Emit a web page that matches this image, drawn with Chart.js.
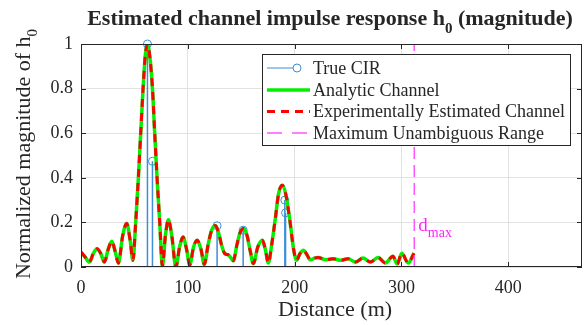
<!DOCTYPE html>
<html><head><meta charset="utf-8">
<script src="https://cdn.jsdelivr.net/npm/chart.js@4/dist/chart.umd.min.js"></script>
<style>html,body{margin:0;padding:0;background:#fff}#wrap{width:586px;height:325px;position:relative}</style>
</head><body><div id="wrap"><canvas id="c" width="586" height="325"></canvas></div>
<script>
// ---- data ----
const distance = [
  0,3.8,7.8,11.5,15,18.5,21.9,25.5,28.8,32,
  35,39,42.8,46,48.6,51.2,53.7,55.9,58.1,60.2,
  62.2,64.5,66.9,69,71.2,73.7,76.2,79,81.8,85,
  88.8,92.3,95.6,98.8,101.8,105.4,108.8,112.3,115.4,119,
  122.3,125.8,129,131.5,134.6,137.7,140.5,142.6,146,149,
  152.4,155.5,158.5,161.3,165.5,169.8,172.5,175.4,178.5,182,
  185,188.5,191.5,195.5,199,201.8,205,208.5,211.5,214.8,
  218.5,222,229,236,243,250,257,264,271,278,
  285,292,296,300.3,306.3,311.7
];
const analyticMag = [
  0.067,0.045,0.022,0.06,0.082,0.06,0.022,0.08,0.115,0.07,
  0.017,0.14,0.195,0.12,0.03,0.2,0.4,0.6,0.8,0.95,
  1.0,0.94,0.8,0.6,0.4,0.2,0.005,0.14,0.212,0.14,
  0.0,0.09,0.134,0.08,0.01,0.09,0.12,0.08,0.012,0.1,
  0.165,0.186,0.15,0.1,0.06,0.055,0.04,0.028,0.1,0.155,
  0.173,0.14,0.07,0.015,0.09,0.12,0.08,0.018,0.1,0.22,
  0.33,0.367,0.33,0.21,0.08,0.03,0.06,0.075,0.055,0.032,
  0.04,0.043,0.032,0.037,0.03,0.037,0.022,0.04,0.022,0.043,
  0.018,0.048,0.013,0.062,0.018,0.062
];
const estimatedMag = [
  0.067,0.045,0.022,0.06,0.082,0.06,0.022,0.08,0.115,0.07,
  0.017,0.14,0.195,0.12,0.03,0.2,0.4,0.6,0.8,0.95,
  1.0,0.94,0.8,0.6,0.4,0.2,0.005,0.14,0.212,0.14,
  0.0,0.09,0.134,0.08,0.01,0.09,0.12,0.08,0.012,0.1,
  0.165,0.186,0.15,0.1,0.06,0.055,0.04,0.028,0.1,0.155,
  0.173,0.14,0.07,0.015,0.09,0.12,0.08,0.018,0.1,0.22,
  0.33,0.367,0.33,0.21,0.08,0.03,0.06,0.075,0.055,0.032,
  0.04,0.043,0.032,0.037,0.03,0.037,0.022,0.04,0.022,0.043,
  0.018,0.048,0.013,0.062,0.018,0.062
];
const cirDistance = [62.2, 66.9, 127.4, 151.8, 190.8, 191.5];
const cirMag      = [1.0, 0.474, 0.185, 0.165, 0.30, 0.243];
const dMax = 312;
const xTickValues = [0, 100, 200, 300, 400];
const yTickValues = [0, 0.2, 0.4, 0.6, 0.8, 1];
const legendLabels = ['True CIR', 'Analytic Channel', 'Experimentally Estimated Channel', 'Maximum Unambiguous Range'];

// ---- styling ----
const SERIF = "'Liberation Serif', 'Times New Roman', serif";
const AX = '#262626';
const BLUE = '#3d8fd6';
const GREEN = '#00f000';
const RED = '#ff0000';
const MAG = '#ff55ff';

Chart.defaults.font.family = SERIF;
Chart.defaults.color = AX;

const stemPoints = [];
cirDistance.forEach((d, i) => {
  stemPoints.push({x: d, y: 0});
  stemPoints.push({x: d, y: cirMag[i]});
  stemPoints.push({x: d, y: null});
});

function drawParts(ctx, parts, x, y, align) {
  let total = 0;
  parts.forEach(p => { ctx.font = p.font; p.w = ctx.measureText(p.t).width; total += p.w; });
  let cx = align === 'center' ? x - total / 2 : x;
  ctx.textAlign = 'left';
  ctx.textBaseline = 'alphabetic';
  parts.forEach(p => { ctx.font = p.font; ctx.fillStyle = p.color || AX; ctx.fillText(p.t, cx, y + (p.dy || 0)); cx += p.w; });
}

const decor = {
  id: 'decor',
  afterDraw(chart) {
    const ctx = chart.ctx, a = chart.chartArea;
    const xs = chart.scales.x, ys = chart.scales.y;
    ctx.save();
    // frame
    ctx.strokeStyle = AX; ctx.lineWidth = 1; ctx.setLineDash([]);
    ctx.strokeRect(a.left + 0.5, a.top + 0.5, a.right - a.left - 1, a.bottom - a.top - 1);
    // inward ticks
    ctx.beginPath();
    xTickValues.forEach(v => {
      const px = Math.round(xs.getPixelForValue(v)) + 0.5;
      ctx.moveTo(px, a.bottom); ctx.lineTo(px, a.bottom - 5);
      ctx.moveTo(px, a.top); ctx.lineTo(px, a.top + 5);
    });
    yTickValues.forEach(v => {
      const py = Math.round(ys.getPixelForValue(v)) + 0.5;
      ctx.moveTo(a.left, py); ctx.lineTo(a.left + 5, py);
      ctx.moveTo(a.right, py); ctx.lineTo(a.right - 5, py);
    });
    ctx.stroke();

    // d_max label
    const dx = xs.getPixelForValue(dMax) + 4;
    drawParts(ctx, [
      {t: 'd', font: '19px ' + SERIF, color: '#ff22ff'},
      {t: 'max', font: '14px ' + SERIF, color: '#ff22ff', dy: 6}
    ], dx, 231, 'left');

    // legend
    const L = {x: 262, y: 54, w: 308, h: 91};
    ctx.fillStyle = '#fff';
    ctx.fillRect(L.x, L.y, L.w, L.h);
    ctx.strokeStyle = AX; ctx.lineWidth = 1;
    ctx.strokeRect(L.x + 0.5, L.y + 0.5, L.w, L.h);
    const rows = [68, 90, 111.5, 133];
    ctx.strokeStyle = BLUE; ctx.lineWidth = 1;
    ctx.beginPath(); ctx.moveTo(267, rows[0]); ctx.lineTo(293, rows[0]); ctx.stroke();
    ctx.beginPath(); ctx.arc(297, rows[0], 4, 0, Math.PI * 2); ctx.stroke();
    ctx.strokeStyle = GREEN; ctx.lineWidth = 3.5;
    ctx.beginPath(); ctx.moveTo(267, rows[1]); ctx.lineTo(310, rows[1]); ctx.stroke();
    ctx.strokeStyle = RED; ctx.lineWidth = 3; ctx.setLineDash([8, 6]);
    ctx.beginPath(); ctx.moveTo(267, rows[2]); ctx.lineTo(310, rows[2]); ctx.stroke();
    ctx.strokeStyle = MAG; ctx.lineWidth = 1.5; ctx.setLineDash([15, 10]);
    ctx.beginPath(); ctx.moveTo(267, rows[3]); ctx.lineTo(310, rows[3]); ctx.stroke();
    ctx.setLineDash([]);
    ctx.fillStyle = AX; ctx.font = '18px ' + SERIF; ctx.textAlign = 'left'; ctx.textBaseline = 'middle';
    legendLabels.forEach((t, i) => ctx.fillText(t, 313, rows[i] + 1));

    // title
    drawParts(ctx, [
      {t: 'Estimated channel impulse response h', font: 'bold 22px ' + SERIF},
      {t: '0', font: 'bold 15px ' + SERIF, dy: 8},
      {t: ' (magnitude)', font: 'bold 22px ' + SERIF}
    ], 330, 25, 'center');

    // x label
    drawParts(ctx, [{t: 'Distance (m)', font: '22px ' + SERIF}], 335, 316, 'center');

    // y label
    ctx.save();
    ctx.translate(30, 154);
    ctx.rotate(-Math.PI / 2);
    drawParts(ctx, [
      {t: 'Normalized magnitude of h', font: '22px ' + SERIF},
      {t: '0', font: '15px ' + SERIF, dy: 7}
    ], 0, 0, 'center');
    ctx.restore();
    ctx.restore();
  }
};

const toXY = (xsArr, ysArr) => xsArr.map((x, i) => ({x, y: ysArr[i]}));

new Chart(document.getElementById('c'), {
  type: 'line',
  data: {
    datasets: [
      {label: legendLabels[3], data: [{x: dMax, y: 0}, {x: dMax, y: 1}], borderColor: MAG, borderWidth: 1.5,
       borderDash: [12, 6], pointRadius: 0, order: 0},
      {label: legendLabels[2], data: toXY(distance, estimatedMag), borderColor: RED, borderWidth: 3,
       borderDash: [8, 6], pointRadius: 0, cubicInterpolationMode: 'monotone', order: 1},
      {label: legendLabels[1], data: toXY(distance, analyticMag), borderColor: GREEN, borderWidth: 3.5,
       pointRadius: 0, cubicInterpolationMode: 'monotone', order: 2},
      {label: legendLabels[0], data: stemPoints, borderColor: BLUE, borderWidth: 1.5, spanGaps: false,
       pointRadius: c => (c.raw && c.raw.y > 0 ? 4 : 0), pointStyle: 'circle',
       pointBorderColor: BLUE, pointBackgroundColor: 'rgba(0,0,0,0)', pointBorderWidth: 1,
       clip: false, order: 3}
    ]
  },
  options: {
    responsive: false, animation: false, devicePixelRatio: 1,
    layout: {padding: {top: 44, right: 4, left: 0, bottom: 0}},
    plugins: {legend: {display: false}, title: {display: false}, tooltip: {enabled: false}},
    scales: {
      x: {type: 'linear', min: 0, max: 469,
          afterBuildTicks: s => { s.ticks = xTickValues.map(v => ({value: v})); },
          afterFit: s => { s.height = 58; },
          grid: {color: '#e2e2e2', drawTicks: false, lineWidth: 1},
          border: {display: false},
          ticks: {font: {family: SERIF, size: 18}, color: AX, padding: 10, maxRotation: 0,
                  callback: v => String(v)}},
      y: {type: 'linear', min: 0, max: 1,
          afterBuildTicks: s => { s.ticks = yTickValues.map(v => ({value: v})); },
          afterFit: s => { s.width = 81; },
          grid: {color: '#e2e2e2', drawTicks: false, lineWidth: 1},
          border: {display: false},
          ticks: {font: {family: SERIF, size: 18}, color: AX, padding: 8,
                  callback: v => String(+(+v).toFixed(1))}}
    }
  },
  plugins: [decor]
});
</script></body></html>
